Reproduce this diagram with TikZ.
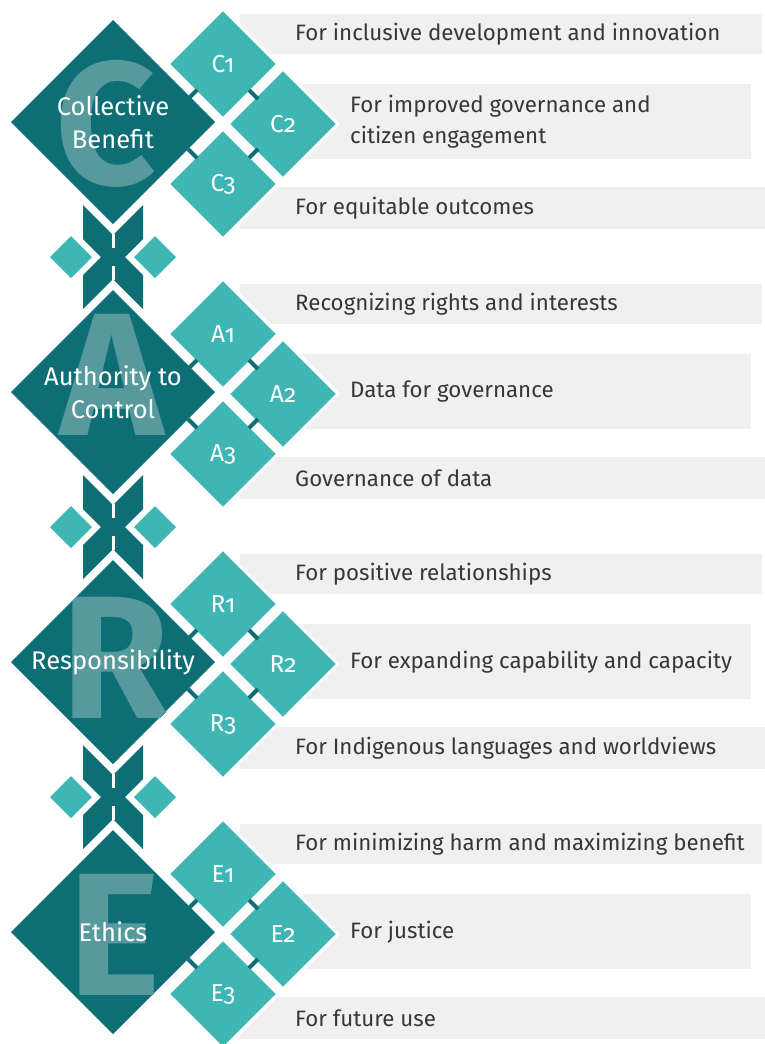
\documentclass[tikz,border=0pt]{standalone}
\usepackage{fontspec}
\setmainfont{Fira Sans}[Numbers=OldStyle]
\usepackage{xcolor}
\usepackage{tikz}
\usetikzlibrary{calc}
\usetikzlibrary{shapes.geometric}
\definecolor{caredark}{RGB}{14,110,117}
\definecolor{carelight}{RGB}{62,182,180}
\definecolor{careband}{RGB}{240,240,240}
\definecolor{caretext}{RGB}{55,55,55}
\colorlet{careletter}{white!30!caredark}
\tikzstyle{bigdia} = [diamond, aspect=1, inner sep=0, outer sep=0, minimum size=204pt, fill=caredark, draw=none]
\tikzstyle{subdia} = [diamond, aspect=1, inner sep=0, outer sep=0, minimum size=110pt, fill=carelight, draw=white, line width=3pt, text=white, font=\fontsize{24.5}{28}\selectfont]
\tikzstyle{sidedia} = [diamond, aspect=1, inner sep=0, outer sep=0, minimum size=42pt, fill=carelight, draw=none]
\tikzstyle{biglab} = [text=white, align=center, inner sep=0, font=\fontsize{25.5}{33}\selectfont]
\tikzstyle{bigletter} = [text=careletter, inner sep=0, font=\fontsize{175}{175}\selectfont\bfseries]
\tikzstyle{item} = [anchor=west, align=left, inner sep=0, text=caretext, font=\fontsize{22.3}{31}\selectfont]
\tikzstyle{band} = [fill=careband]
\tikzstyle{stub} = [draw=caredark, line width=4pt]
\tikzstyle{slit} = [draw=white, line width=3pt]

\begin{document}
\begin{tikzpicture}[x=1pt, y=-1pt]
\useasboundingbox (0,0) rectangle (765,1044);

% the four principles
\foreach \k/\ltr/\name/\lx/\ly/\ta/\tb/\tc in {
  0/C/{Collective\\Benefit}/106/2/{For inclusive development and innovation}/{For improved governance and\\citizen engagement}/{For equitable outcomes},
  1/A/{Authority to\\Control}/112/-17/{Recognizing rights and interests}/{Data for governance}/{Governance of data},
  2/R/{Responsibility}/115/-4/{For positive relationships}/{For expanding capability and capacity}/{For Indigenous languages and worldviews},
  3/E/{Ethics}/115/3/{For minimizing harm and maximizing benefit}/{For justice}/{For future use}} {
  \pgfmathsetmacro{\y}{122+270*\k}
  \fill[band] (240,\y-108) rectangle (762,\y-68);
  \fill[band] (300,\y-38) rectangle (751,\y+37);
  \fill[band] (240,\y+65) rectangle (765,\y+107);
  \node[item] (t\ltr1) at (295,\y-88) {\ta};
  \node[item] (t\ltr2) at (350,\y) {\tb};
  \node[item] (t\ltr3) at (295,\y+86) {\tc};
  \node[bigdia] (\ltr) at (113,\y) {};
  \begin{scope}
    \clip (\ltr.north) -- (\ltr.east) -- (\ltr.south) -- (\ltr.west) -- cycle;
    \node[bigletter] (g\ltr) at (\lx,\y+\ly) {\ltr};
  \end{scope}
  \node[biglab] (l\ltr) at (113,\y) {\name};
  \node[subdia, yshift=-2pt] (\ltr1) at (223,\y-60) {\ltr1};
  \node[subdia, yshift=-2pt] (\ltr2) at (283,\y) {\ltr2};
  \node[subdia, yshift=-2pt] (\ltr3) at (223,\y+60) {\ltr3};
  \draw[stub] ($(\ltr1.west)!.5!(\ltr1.south)+(1.5,-1.5)$) -- ++(-9,9);
  \draw[stub] ($(\ltr1.east)!.5!(\ltr1.south)+(-1.5,-1.5)$) -- ++(9,9);
  \draw[stub] ($(\ltr3.west)!.5!(\ltr3.north)+(1.5,1.5)$) -- ++(-9,-9);
  \draw[stub] ($(\ltr3.east)!.5!(\ltr3.north)+(-1.5,1.5)$) -- ++(9,-9);
}

% links between the principles
\foreach \k in {0,1,2} {
  \pgfmathsetmacro{\c}{122+270*\k+135}
  \fill[caredark] (83,\c-52) -- (113,\c-22) -- (143,\c-52) -- (143,\c-18) -- (125,\c)
    -- (143,\c+18) -- (143,\c+52) -- (113,\c+22) -- (83,\c+52) -- (83,\c+18)
    -- (101,\c) -- (83,\c-18) -- cycle;
  \draw[slit] (113,\c-23) -- (113,\c-9);
  \draw[slit] (113,\c+9) -- (113,\c+23);
  \node[sidedia] (sl\k) at (71,\c) {};
  \node[sidedia] (sr\k) at (155,\c) {};
}
\end{tikzpicture}
\end{document}
